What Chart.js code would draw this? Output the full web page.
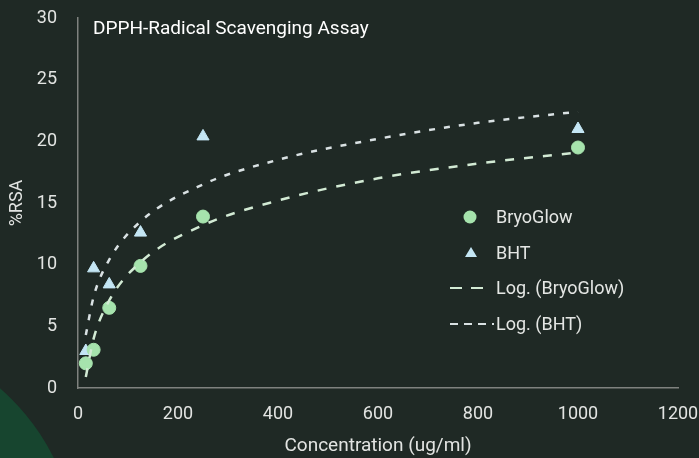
<!DOCTYPE html>
<html>
<head>
<meta charset="utf-8">
<script src="https://cdn.jsdelivr.net/npm/chart.js@4/dist/chart.umd.min.js"></script>
<style>
    html, body { margin: 0; padding: 0; }
    body {
        width: 699px;
        height: 458px;
        position: relative;
        overflow: hidden;
        background: #1f2925;
        font-family: Roboto, 'Noto Sans', sans-serif;
    }
    .blob {
        position: absolute;
        left: -378px;
        top: 332px;
        width: 456px;
        height: 456px;
        border-radius: 50%;
        background: #17452f;
    }
    #wrap { position: absolute; left: 0; top: 0; width: 699px; height: 458px; }
    .title {
        position: absolute;
        left: 93px;
        top: 16px;
        color: #ffffff;
        font-size: 19px;
        white-space: nowrap;
    }
    .legend {
        position: absolute;
        left: 450px;
        top: 206px;
        color: #e4e6e4;
        font-size: 18px;
        white-space: nowrap;
    }
    .legend .row { height: 35.5px; position: relative; }
    .legend .row span.lbl { position: absolute; left: 46px; top: 0; line-height: 22px; }
    .legend svg { position: absolute; left: 0; top: 0; }
</style>
</head>
<body>
<div class="blob"></div>
<div id="wrap"><canvas id="chart" width="699" height="458"></canvas></div>
<div class="title">DPPH-Radical Scavenging Assay</div>
<div class="legend" id="legend"></div>
<script>
    'use strict';

    // concentrations (ug/ml)
    const concentrations = [15.625, 31.25, 62.5, 125, 250, 1000];
    const bryoGlow = [2.0, 3.1, 6.5, 9.9, 13.9, 19.5];
    const bht = [3.0, 9.7, 8.4, 12.6, 20.4, 21.0];

    // logarithmic trend lines
    const trendX = [15.625, 31.25, 62.5, 125, 250, 400, 600, 800, 1000];
    const trendBryoGlow = [0.9, 4.0, 7.1, 10.2, 13.2, 15.2, 17.0, 18.2, 19.1];
    const trendBht = [4.3, 7.4, 10.4, 13.5, 16.5, 18.5, 20.2, 21.5, 22.4];

    const yTicks = [0, 5, 10, 15, 20, 25, 30];
    const xTicks = [0, 200, 400, 600, 800, 1000, 1200];

    const greenColor = '#a6e3ad';
    const blueColor = '#c4e6f4';
    const greenTrend = '#d2ead4';
    const blueTrend = '#d9e1e3';
    const axisColor = '#7f827f';
    const tickColor = '#e2e4e2';

    const pairs = (xs, ys) => xs.map((x, i) => ({ x: x, y: ys[i] }));

    const legendItems = [
        { label: 'BryoGlow', svg: '<circle cx="20" cy="11" r="6.5" fill="' + greenColor + '"/>' },
        { label: 'BHT', svg: '<polygon points="21,5 27,15 15,15" fill="' + blueColor + '"/>' },
        { label: 'Log. (BryoGlow)', svg: '<line x1="0" y1="11" x2="34" y2="11" stroke="' + greenTrend + '" stroke-width="2" stroke-dasharray="12,9"/>' },
        { label: 'Log. (BHT)', svg: '<line x1="0" y1="11" x2="44" y2="11" stroke="' + blueTrend + '" stroke-width="2" stroke-dasharray="8,6"/>' }
    ];

    document.getElementById('legend').innerHTML = legendItems.map((item) =>
        '<div class="row"><svg width="46" height="22">' + item.svg + '</svg><span class="lbl">' + item.label + '</span></div>'
    ).join('');

    new Chart(document.getElementById('chart'), {
        type: 'scatter',
        data: {
            datasets: [
                {
                    label: 'BryoGlow',
                    data: pairs(concentrations, bryoGlow),
                    backgroundColor: greenColor,
                    borderColor: greenColor,
                    pointStyle: 'circle',
                    pointRadius: 6.5,
                    order: 2
                },
                {
                    label: 'BHT',
                    data: pairs(concentrations, bht),
                    backgroundColor: blueColor,
                    borderColor: blueColor,
                    pointStyle: 'triangle',
                    pointRadius: 7,
                    order: 2
                },
                {
                    label: 'Log. (BryoGlow)',
                    data: pairs(trendX, trendBryoGlow),
                    showLine: true,
                    borderColor: greenTrend,
                    borderWidth: 2.5,
                    borderDash: [9, 10],
                    pointRadius: 0,
                    cubicInterpolationMode: 'monotone',
                    order: 1
                },
                {
                    label: 'Log. (BHT)',
                    data: pairs(trendX, trendBht),
                    showLine: true,
                    borderColor: blueTrend,
                    borderWidth: 2.5,
                    borderDash: [6, 9],
                    pointRadius: 0,
                    cubicInterpolationMode: 'monotone',
                    order: 1
                }
            ]
        },
        options: {
            responsive: false,
            animation: false,
            layout: { padding: { top: 18, right: 21, left: 0, bottom: 0 } },
            plugins: {
                legend: { display: false },
                tooltip: { enabled: false }
            },
            scales: {
                x: {
                    type: 'linear',
                    min: 0,
                    max: 1200,
                    afterBuildTicks: (scale) => { scale.ticks = xTicks.map((v) => ({ value: v })); },
                    afterFit: (scale) => {
                        scale.height = 70;
                        scale.paddingRight = 0;
                        scale.paddingLeft = 0;
                    },
                    grid: { display: false, drawTicks: false },
                    border: { display: true, color: axisColor, width: 1.5 },
                    ticks: {
                        color: tickColor,
                        padding: 16,
                        font: { family: 'Roboto', size: 18 },
                        callback: (value) => String(value)
                    },
                    title: {
                        display: true,
                        text: 'Concentration (ug/ml)',
                        color: tickColor,
                        font: { family: 'Roboto', size: 19 },
                        padding: { top: 0, bottom: 0 }
                    }
                },
                y: {
                    type: 'linear',
                    min: 0,
                    max: 30,
                    afterBuildTicks: (scale) => { scale.ticks = yTicks.map((v) => ({ value: v })); },
                    afterFit: (scale) => {
                        scale.width = 78;
                        scale.paddingTop = 0;
                        scale.paddingBottom = 0;
                    },
                    grid: { display: false, drawTicks: false },
                    border: { display: true, color: axisColor, width: 1.5 },
                    ticks: {
                        color: tickColor,
                        padding: 21,
                        font: { family: 'Roboto', size: 18 },
                        callback: (value) => String(value)
                    },
                    title: {
                        display: true,
                        text: '%RSA',
                        color: tickColor,
                        font: { family: 'Roboto', size: 18 },
                        padding: { top: 7, bottom: 0 }
                    }
                }
            }
        }
    });
</script>
</body>
</html>
